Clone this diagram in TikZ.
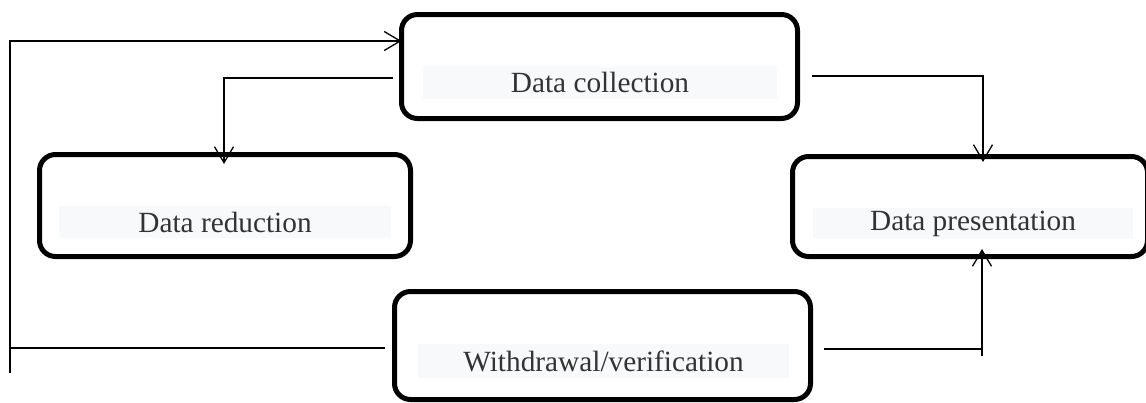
\documentclass[tikz,border=0pt]{standalone}
\usepackage{fontspec}
\setmainfont{Liberation Serif}
\usetikzlibrary{arrows.meta}
\definecolor{bandgray}{HTML}{F8F9FA}
\definecolor{textgray}{HTML}{333333}
\tikzset{
  procbox/.style={draw=black, line width=5pt, rounded corners=16pt, outer sep=0pt, inner sep=0pt, rectangle},
  band/.style={fill=bandgray, inner sep=0pt, outer sep=0pt, text=textgray, font=\fontsize{29.3}{34}\selectfont},
  conn/.style={draw=black, line width=1.3pt},
  arr/.style={conn, -{Straight Barb[length=16pt,width=19pt,line width=1.3pt]}}
}
\begin{document}
\begin{tikzpicture}[x=1pt,y=-1pt]
\useasboundingbox (0,0) rectangle (1146,402);
% boxes
\node[procbox, minimum width=396pt, minimum height=104pt] (coll) at (599.5,66.5) {};
\node[procbox, minimum width=371pt, minimum height=102pt] (red) at (225,205.5) {};
\node[procbox, minimum width=355pt, minimum height=100pt] (pres) at (970,206.5) {};
\node[procbox, minimum width=416pt, minimum height=108pt] (wd) at (602.5,345.5) {};
% text bands
\node[band, minimum width=354pt, minimum height=33pt] (tcoll) at (600,82.5) {Data collection};
\node[band, minimum width=332pt, minimum height=32pt] (tred) at (225,222) {Data reduction};
\node[band, minimum width=320pt, minimum height=31pt] (tpres) at (973,223.5) {Data presentation};
\node[band, minimum width=371pt, minimum height=34pt] (twd) at (603.5,361) {Withdrawal/verification};
% free-end coordinates
\coordinate (lbot) at (10,373);
\coordinate (ltop) at (10,41);
\coordinate (wl) at (385,348);
\coordinate (lmid) at (10,348);
\coordinate (c1) at (393,78);
\coordinate (c1t) at (224,164);
\coordinate (c2) at (812,76);
\coordinate (c2t) at (983,162);
\coordinate (w2) at (824,349);
\coordinate (w2b) at (982,356);
\coordinate (w2c) at (982,349);
\coordinate (w2t) at (982,249);
% connectors
\draw[arr] (lbot) -- (ltop) -- (coll.west |- ltop);
\draw[conn] (wl) -- (lmid);
\draw[arr] (c1) -| (c1t);
\draw[arr] (c2) -| (c2t);
\draw[conn] (w2) -- (w2c);
\draw[arr] (w2b) -- (w2t);
\end{tikzpicture}
\end{document}
